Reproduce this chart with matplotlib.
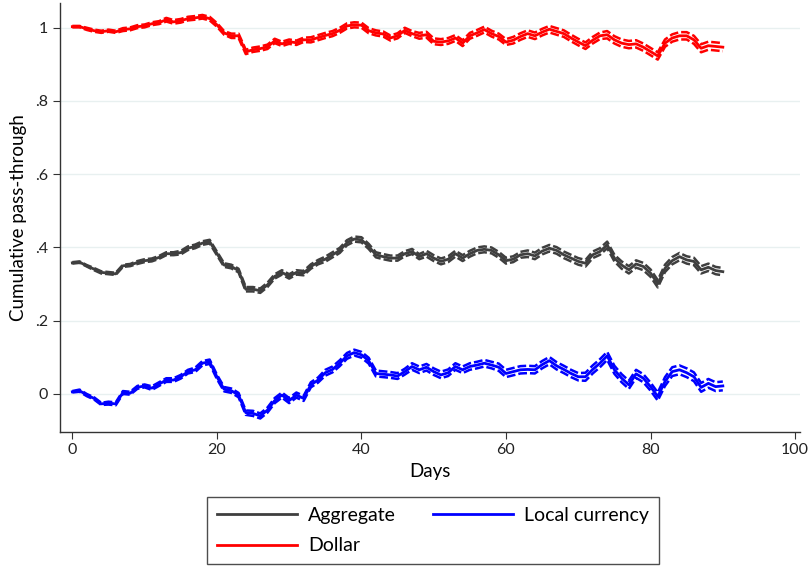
import matplotlib
matplotlib.use("Agg")
import matplotlib.pyplot as plt
import numpy as np

days = list(range(0, 91))

dollar = [1.003, 1.003, 0.997, 0.992, 0.989, 0.992, 0.989, 0.995, 0.997, 1.003,
          1.005, 1.011, 1.014, 1.022, 1.016, 1.019, 1.025, 1.027, 1.030, 1.025,
          1.008, 0.986, 0.978, 0.978, 0.934, 0.940, 0.943, 0.948, 0.964, 0.956,
          0.962, 0.959, 0.967, 0.967, 0.973, 0.979, 0.984, 0.993, 1.005, 1.008,
          1.007, 0.992, 0.986, 0.983, 0.972, 0.978, 0.993, 0.984, 0.978, 0.981,
          0.963, 0.961, 0.964, 0.972, 0.958, 0.978, 0.986, 0.995, 0.984, 0.976,
          0.961, 0.966, 0.976, 0.984, 0.978, 0.988, 0.996, 0.990, 0.984, 0.972,
          0.961, 0.951, 0.966, 0.978, 0.981, 0.967, 0.958, 0.954, 0.956, 0.947,
          0.935, 0.923, 0.958, 0.972, 0.978, 0.978, 0.967, 0.944, 0.951, 0.949,
          0.947]

aggregate = [0.358, 0.360, 0.350, 0.341, 0.332, 0.330, 0.328, 0.350, 0.352, 0.359,
             0.364, 0.366, 0.373, 0.383, 0.383, 0.386, 0.398, 0.403, 0.412, 0.416,
             0.384, 0.352, 0.348, 0.337, 0.286, 0.286, 0.282, 0.298, 0.321, 0.332,
             0.321, 0.332, 0.330, 0.348, 0.360, 0.368, 0.380, 0.392, 0.413, 0.423,
             0.421, 0.403, 0.380, 0.375, 0.371, 0.371, 0.383, 0.389, 0.375, 0.383,
             0.371, 0.362, 0.368, 0.383, 0.371, 0.383, 0.392, 0.395, 0.392, 0.380,
             0.364, 0.368, 0.380, 0.383, 0.377, 0.390, 0.398, 0.392, 0.380, 0.371,
             0.362, 0.357, 0.380, 0.389, 0.407, 0.371, 0.352, 0.339, 0.355, 0.348,
             0.330, 0.301, 0.343, 0.364, 0.375, 0.366, 0.362, 0.339, 0.346, 0.337,
             0.334]

local_currency = [0.006, 0.009, -0.003, -0.012, -0.027, -0.025, -0.027, 0.004, 0.002, 0.018,
                  0.022, 0.016, 0.027, 0.038, 0.038, 0.047, 0.061, 0.066, 0.084, 0.088,
                  0.047, 0.013, 0.009, -0.003, -0.051, -0.053, -0.060, -0.044, -0.018, -0.003,
                  -0.018, -0.003, -0.012, 0.025, 0.038, 0.058, 0.067, 0.084, 0.104, 0.113,
                  0.107, 0.091, 0.056, 0.054, 0.052, 0.049, 0.061, 0.075, 0.066, 0.073,
                  0.061, 0.052, 0.058, 0.075, 0.066, 0.075, 0.079, 0.084, 0.079, 0.073,
                  0.056, 0.061, 0.066, 0.067, 0.066, 0.080, 0.091, 0.077, 0.067, 0.056,
                  0.047, 0.047, 0.067, 0.084, 0.104, 0.066, 0.043, 0.025, 0.055, 0.043,
                  0.020, -0.007, 0.034, 0.061, 0.066, 0.058, 0.047, 0.018, 0.029, 0.020,
                  0.022]

hw_dollar = [0.002, 0.002, 0.003, 0.003, 0.003, 0.003, 0.003, 0.004, 0.004, 0.004,
             0.004, 0.004, 0.004, 0.005, 0.005, 0.005, 0.005, 0.005, 0.005, 0.005,
             0.005, 0.005, 0.006, 0.006, 0.006, 0.006, 0.006, 0.006, 0.006, 0.006,
             0.006, 0.006, 0.006, 0.007, 0.007, 0.007, 0.007, 0.007, 0.007, 0.007,
             0.007, 0.007, 0.007, 0.007, 0.007, 0.007, 0.007, 0.007, 0.008, 0.008,
             0.008, 0.008, 0.008, 0.008, 0.008, 0.008, 0.008, 0.008, 0.008, 0.008,
             0.008, 0.009, 0.009, 0.009, 0.009, 0.009, 0.009, 0.009, 0.009, 0.009,
             0.009, 0.009, 0.009, 0.009, 0.010, 0.010, 0.010, 0.010, 0.010, 0.010,
             0.010, 0.010, 0.010, 0.010, 0.010, 0.010, 0.011, 0.011, 0.011, 0.011,
             0.011]

hw_aggregate = [0.002, 0.002, 0.002, 0.003, 0.003, 0.003, 0.003, 0.003, 0.003, 0.004,
                0.004, 0.004, 0.004, 0.004, 0.004, 0.005, 0.005, 0.005, 0.005, 0.005,
                0.005, 0.005, 0.005, 0.005, 0.006, 0.006, 0.006, 0.006, 0.006, 0.006,
                0.006, 0.006, 0.006, 0.006, 0.006, 0.007, 0.007, 0.007, 0.007, 0.007,
                0.007, 0.007, 0.007, 0.007, 0.007, 0.007, 0.007, 0.007, 0.007, 0.008,
                0.008, 0.008, 0.008, 0.008, 0.008, 0.008, 0.008, 0.008, 0.008, 0.008,
                0.008, 0.008, 0.008, 0.009, 0.009, 0.009, 0.009, 0.009, 0.009, 0.009,
                0.009, 0.009, 0.009, 0.009, 0.009, 0.009, 0.010, 0.010, 0.010, 0.010,
                0.010, 0.010, 0.010, 0.010, 0.010, 0.010, 0.010, 0.010, 0.010, 0.010,
                0.010]

hw_local = [0.002, 0.003, 0.003, 0.003, 0.003, 0.004, 0.004, 0.004, 0.004, 0.004,
            0.004, 0.005, 0.005, 0.005, 0.005, 0.005, 0.005, 0.006, 0.006, 0.006,
            0.006, 0.006, 0.006, 0.006, 0.006, 0.007, 0.007, 0.007, 0.007, 0.007,
            0.007, 0.007, 0.007, 0.007, 0.007, 0.008, 0.008, 0.008, 0.008, 0.008,
            0.008, 0.008, 0.008, 0.008, 0.008, 0.008, 0.008, 0.009, 0.009, 0.009,
            0.009, 0.009, 0.009, 0.009, 0.009, 0.009, 0.009, 0.009, 0.009, 0.010,
            0.010, 0.010, 0.010, 0.010, 0.010, 0.010, 0.010, 0.010, 0.010, 0.010,
            0.010, 0.011, 0.011, 0.011, 0.011, 0.011, 0.011, 0.011, 0.011, 0.011,
            0.011, 0.011, 0.012, 0.012, 0.012, 0.012, 0.012, 0.012, 0.012, 0.012,
            0.012]

x_ticks = [0, 20, 40, 60, 80, 100]
y_ticks = [0, 0.2, 0.4, 0.6, 0.8, 1.0]
y_tick_labels = ["0", ".2", ".4", ".6", ".8", "1"]

plt.rcParams['font.family'] = ['Lato', 'DejaVu Sans']

fig = plt.figure(figsize=(8.08, 5.70), dpi=100)
ax = fig.add_axes([0.0743, 0.242, 0.916, 0.753])

series = [
    ("Aggregate", aggregate, hw_aggregate, "#3f3f3f"),
    ("Dollar", dollar, hw_dollar, "#ff0000"),
    ("Local currency", local_currency, hw_local, "#0000ff"),
]

handles = {}
for name, est, hw, col in series:
    est_a = np.array(est)
    hw_a = np.array(hw)
    ax.plot(days, est_a + hw_a, color=col, lw=1.8, linestyle=(0, (3.5, 1.2)))
    ax.plot(days, est_a - hw_a, color=col, lw=1.8, linestyle=(0, (3.5, 1.2)))
    h, = ax.plot(days, est_a, color=col, lw=2.0, label=name)
    handles[name] = h

ax.set_xlim(-1.7, 100.7)
ax.set_ylim(-0.104, 1.068)
ax.set_xticks(x_ticks)
ax.set_yticks(y_ticks)
ax.set_yticklabels(y_tick_labels)
ax.tick_params(axis='both', labelsize=11.5, direction='out', length=5,
               color='#333333', labelcolor='#222222')
ax.tick_params(axis='x', pad=3)
ax.grid(axis='y', color='#e8f0f0', lw=1.0)
ax.set_axisbelow(True)
for s in ['top', 'right']:
    ax.spines[s].set_visible(False)
for s in ['left', 'bottom']:
    ax.spines[s].set_color('#333333')
    ax.spines[s].set_linewidth(1.0)

ax.set_xlabel("Days", fontsize=13.5, labelpad=4)
ax.set_ylabel("Cumulative pass-through", fontsize=13.5, labelpad=6)

order = ["Aggregate", "Dollar", "Local currency"]
leg = fig.legend([handles[n] for n in order], order, ncol=2,
                 loc='center', bbox_to_anchor=(0.536, 0.069),
                 fontsize=14, frameon=True, fancybox=False,
                 handlelength=4.1, columnspacing=1.9, labelspacing=0.7,
                 borderpad=0.5, handletextpad=0.6, borderaxespad=0)
leg.get_frame().set_edgecolor('#222222')
leg.get_frame().set_linewidth(1.0)

fig.savefig("out.png", dpi=100)
